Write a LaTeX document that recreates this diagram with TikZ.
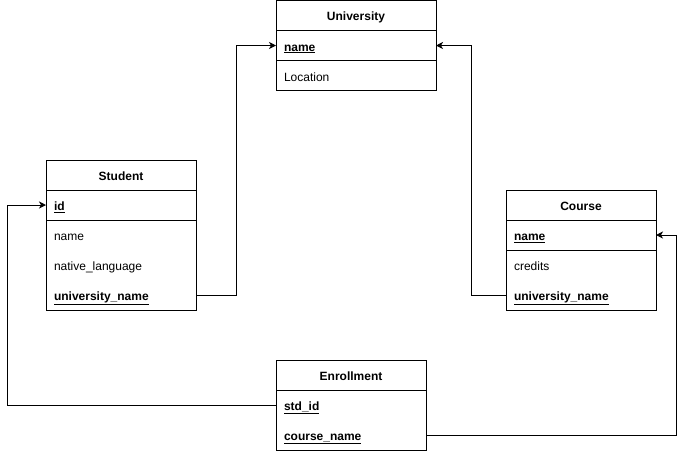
\documentclass[tikz,border=0pt]{standalone}
\usepackage{fontspec}
\setmainfont{Liberation Sans}
\usetikzlibrary{arrows.meta,positioning}
\tikzset{
  hdr/.style={draw,outer sep=0pt,minimum width=#1,minimum height=30pt,text height=11pt,text depth=1pt,font=\fontsize{12}{14}\selectfont\bfseries},
  hdr/.default=150pt,
  row/.style={outer sep=0pt,text width=#1,inner xsep=8pt,minimum height=30pt,text height=12pt,text depth=1pt,align=left},
  row/.default=134pt,
  keyrow/.style={row=#1,draw},
  keyrow/.default=134pt,
  link/.style={-{Stealth[length=7pt,width=7pt,inset=2pt]}}
}
\newcommand{\pk}[1]{\textbf{\underline{#1}}}
\begin{document}
\begin{tikzpicture}[x=1pt,y=-1pt,line width=1pt,font=\fontsize{12}{14}\selectfont,node distance=0pt]
\useasboundingbox (0,0) rectangle (686,451);

% University
\node[hdr=160pt] (uni) at (356,15.5) {University};
\node[keyrow=144pt,below=of uni] (uni-name) {\pk{name}};
\node[row=144pt,below=of uni-name] (uni-loc) {Location};
\draw (uni.north west) rectangle (uni-loc.south east);

% Student
\node[hdr] (stu) at (121,175) {Student};
\node[keyrow,below=of stu] (stu-id) {\pk{id}};
\node[row,below=of stu-id] (stu-name) {name};
\node[row,below=of stu-name] (stu-lang) {native\_language};
\node[row,below=of stu-lang] (stu-uni) {\pk{university\_name}};
\draw (stu.north west) rectangle (stu-uni.south east);

% Course
\node[hdr] (crs) at (581,205) {Course};
\node[keyrow,below=of crs] (crs-name) {\pk{name}};
\node[row,below=of crs-name] (crs-cred) {credits};
\node[row,below=of crs-cred] (crs-uni) {\pk{university\_name}};
\draw (crs.north west) rectangle (crs-uni.south east);

% Enrollment
\node[hdr] (enr) at (351,375) {Enrollment};
\node[row,below=of enr] (enr-std) {\pk{std\_id}};
\node[row,below=of enr-std] (enr-crs) {\pk{course\_name}};
\draw (enr.north west) rectangle (enr-crs.south east);

% foreign keys
\draw[link] (stu-uni.east) -- ++(40,0) |- (uni-name.west);
\draw[link] (crs-uni.west) -- ++(-35,0) |- (uni-name.east);
\draw[link] (enr-std.west) -- ++(-269,0) |- (stu-id.west);
\draw[link] (enr-crs.east) -- ++(250,0) |- (crs-name.east);
\end{tikzpicture}
\end{document}
